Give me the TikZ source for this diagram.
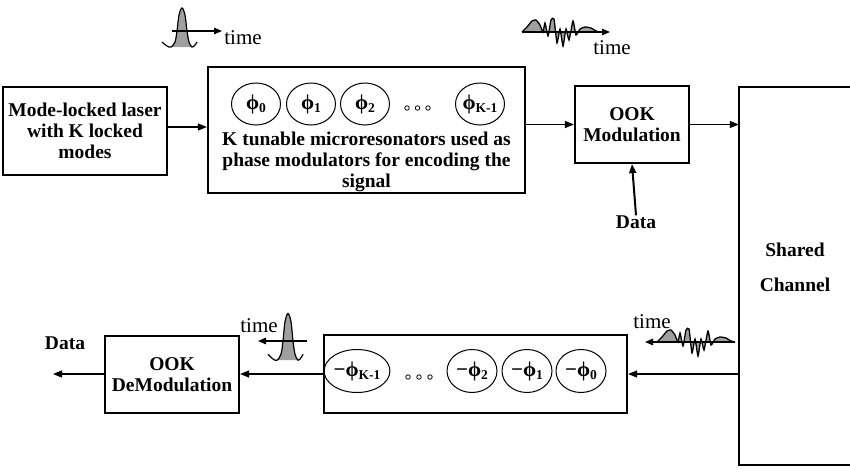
\documentclass[tikz,border=0pt]{standalone}
\usepackage{fontspec}
\setmainfont{Liberation Serif}
\usetikzlibrary{arrows.meta,shapes.geometric}
\newcommand\phisub[1]{ϕ\kern-0.3pt\raisebox{-0.35ex}{\fontsize{13.5}{13.5}\selectfont #1}}
\tikzset{
  box/.style={draw, line width=2.2pt, align=center, inner sep=0pt,
    font=\bfseries\fontsize{19.5}{21}\selectfont},
  txt/.style={align=center, inner sep=0pt, font=\bfseries\fontsize{19.5}{21}\selectfont},
  lbl/.style={inner sep=0pt, font=\bfseries\fontsize{19.5}{21}\selectfont},
  tlbl/.style={inner sep=0pt, font=\fontsize{21}{23}\selectfont},
  ell/.style={draw, ellipse, line width=1pt, minimum width=49pt, minimum height=42pt,
    inner sep=0pt, font=\bfseries\fontsize{21}{23}\selectfont},
  dotc/.style={circle, draw, line width=0.8pt, minimum size=4.5pt, inner sep=0pt},
  arr/.style={-{Triangle[length=9pt,width=7pt]}, line width=1.2pt},
  pulsepic/.pic={
    \fill[gray!75] plot[smooth, tension=0.55] coordinates{(-11,16) (-7,11) (-5,0) (-3,-16) (0,-23) (3,-16) (5,0) (7,11) (10,16)} -- cycle;
    \draw[line width=1.2pt] plot[smooth, tension=0.55] coordinates{(-20,11) (-15,15) (-11,16) (-7,11) (-5,0) (-3,-16) (0,-23) (3,-16) (5,0) (7,11) (10,16) (13,14) (15,11)};
  },
  wavepic/.pic={
    \fill[gray!75] plot[smooth, tension=0.3] coordinates{(0,0) (5,-5) (10,-11) (14,-12) (18,-7) (21,0) (23,-9) (26,4) (29,-12) (32,-13) (35,11) (38,-3) (41,14) (44,-3) (47,8) (51,-11) (54,3) (58,-3) (63,-5) (69,-4) (74,-1) (78,0)} -- cycle;
    \draw[line width=1.3pt] plot[smooth, tension=0.3] coordinates{(0,0) (5,-5) (10,-11) (14,-12) (18,-7) (21,0) (23,-9) (26,4) (29,-12) (32,-13) (35,11) (38,-3) (41,14) (44,-3) (47,8) (51,-11) (54,3) (58,-3) (63,-5) (69,-4) (74,-1) (78,0)};
  }
}
\begin{document}
\begin{tikzpicture}[x=1pt,y=-1pt]
\useasboundingbox (0,0) rectangle (850,471);

% ---------- top row ----------
\node[box, minimum width=164pt, minimum height=88pt] (laser) at (85,131) {Mode-locked laser\\with K locked\\modes};
\node[box, minimum width=317pt, minimum height=126pt] (big) at (366.5,130) {};
\node[ell] (p0) at (256,104) {\phisub{0}};
\node[ell] (p1) at (311,104) {\phisub{1}};
\node[ell] (p2) at (365,104) {\phisub{2}};
\node[dotc] (td1) at (407,108) {};
\node[dotc] (td2) at (417.5,108) {};
\node[dotc] (td3) at (428,108) {};
\node[ell] (pk) at (480,104) {\phisub{K-1}};
\node[txt] (bigtxt) at (366.5,162) {K tunable microresonators used as\\phase modulators for encoding the\\signal};

\node[box, minimum width=114pt, minimum height=77pt] (ook) at (632,124.5) {OOK\\Modulation};
\node[lbl] (data1) at (636,222) {Data};

\node[minimum width=115pt, minimum height=378pt, inner sep=0pt] (chan) at (796.5,276) {};
\draw[line width=2.2pt] (chan.north east) -- (chan.north west) -- (chan.south west) -- (chan.south east);
\node[txt] (chantxt) at (795,267) {Shared\\[14pt]Channel};

\coordinate (y1) at (0,127);
\draw[arr] (laser.east |- y1) -- (big.west |- y1);
\draw[arr] (big.east |- ook.west) -- (ook.west);
\draw[arr] (ook.east) -- (ook.east -| chan.west);
\draw[arr, line width=2pt] (data1.north) -- (ook.south);

% ---------- bottom row ----------
\node[box, minimum width=303pt, minimum height=78pt] (bot) at (475.5,374) {};
\node[ell, minimum width=50pt, minimum height=43pt] (mk) at (357,371) {−\phisub{K-1}};
\node[dotc] (bd1) at (408,377) {};
\node[dotc] (bd2) at (419,377) {};
\node[dotc] (bd3) at (430,377) {};
\node[ell, minimum width=50pt, minimum height=43pt] (m2) at (472,371) {−\phisub{2}};
\node[ell, minimum width=50pt, minimum height=43pt] (m1) at (527,371) {−\phisub{1}};
\node[ell, minimum width=50pt, minimum height=43pt] (m0) at (581,371) {−\phisub{0}};

\node[box, minimum width=134pt, minimum height=77pt] (demod) at (172,374.5) {OOK\\DeModulation};
\node[lbl] (data2) at (65,343) {Data};
\coordinate (out) at (53,374);

\draw[arr] (chan.west |- bot.east) -- (bot.east);
\draw[arr] (bot.west) -- (bot.west -| demod.east);
\draw[arr] (demod.west |- out) -- (out);

% ---------- waveforms ----------
\pic at (182,31) {pulsepic};
\coordinate (a1s) at (172,31);
\coordinate (a1e) at (222,31);
\draw[arr, -{Triangle[length=8pt,width=6.5pt]}] (a1s) -- (a1e);
\node[tlbl] (t1) at (243,38) {time};

\pic at (522,32) {wavepic};
\coordinate (a2s) at (522,32);
\coordinate (a2e) at (610,32);
\draw[arr, -{Triangle[length=8pt,width=6.5pt]}] (a2s) -- (a2e);
\node[tlbl] (t2) at (612,48) {time};

\pic at (657,342) {wavepic};
\coordinate (a3s) at (735,342);
\coordinate (a3e) at (645,342);
\draw[arr, -{Triangle[length=8pt,width=6.5pt]}] (a3s) -- (a3e);
\node[tlbl] (t3) at (652,322) {time};

\pic[yscale=1.2] at (288,341) {pulsepic};
\coordinate (a4s) at (307,341);
\coordinate (a4e) at (258,341);
\draw[arr, -{Triangle[length=8pt,width=6.5pt]}] (a4s) -- (a4e);
\node[tlbl] (t4) at (259,326) {time};
\end{tikzpicture}
\end{document}
